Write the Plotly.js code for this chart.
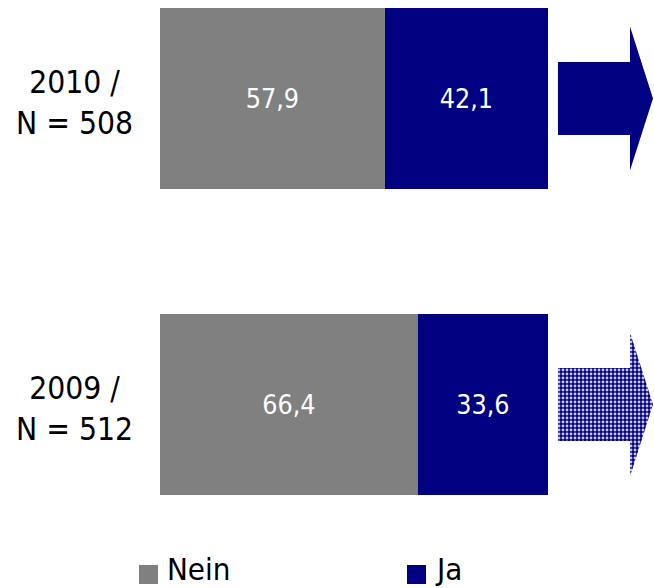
<!DOCTYPE html>
<html>
<head>
<meta charset="utf-8">
<script src="https://cdn.plot.ly/plotly-3.0.1.min.js"></script>
<style>html,body{margin:0;padding:0;background:#fff;}#chart{width:654px;height:588px;}</style>
</head>
<body>
<div id="chart"></div>
<script>
// Data
const years = ['2009', '2010'];
const sampleSizes = [512, 508];
const neinValues = [66.4, 57.9];
const jaValues = [33.6, 42.1];
const seriesNames = ['Nein', 'Ja'];
const seriesColors = ['#808080', '#000080'];

const FONT = '"DejaVu Sans Condensed", "DejaVu Sans", sans-serif';
const W = 654, H = 588;

const seriesValues = [neinValues, jaValues];
const traces = seriesNames.map((name, k) => ({
  type: 'bar', orientation: 'h', name: name, showlegend: false,
  y: years, x: seriesValues[k],
  marker: {color: seriesColors[k], line: {width: 0}},
  texttemplate: '%{x:.1f}', textposition: 'inside', insidetextanchor: 'middle',
  textfont: {family: FONT, size: 26.67, color: '#ffffff'},
  hoverinfo: 'skip'
}));

// Decorative arrows to the right of each bar (geometry relative to category index)
function arrow(idx) {
  const bx0 = 0.01, bx1 = 0.76, tip = 0.9995;
  const bh = 0.1193, hh = 0.2353;
  return {
    x: [bx0, bx1, bx1, tip, bx1, bx1, bx0, bx0],
    y: [idx + bh, idx + bh, idx + hh, idx, idx - hh, idx - bh, idx - bh, idx + bh]
  };
}
years.forEach((yr, i) => {
  const a = arrow(i);
  const t = {
    type: 'scatter', mode: 'lines', x: a.x, y: a.y, xaxis: 'x2', yaxis: 'y2',
    fill: 'toself', line: {width: 0, color: '#000080'},
    fillcolor: '#000080', showlegend: false, hoverinfo: 'skip'
  };
  if (yr === '2009') {
    t.fillpattern = {shape: '.', bgcolor: '#000080', fgcolor: '#c8c8ee', size: 4, solidity: 0.4, fillmode: 'replace'};
  }
  traces.push(t);
});

const yRange = [-0.4428, 1.3219];
const yDomain = [(H - 540) / H, 1];

// Category labels
const annotations = years.map((yr, i) => ({
  xref: 'paper', yref: 'y', x: 74 / W, y: i, yshift: -4,
  xanchor: 'center', yanchor: 'middle', align: 'center',
  text: yr + ' /<br>N = ' + sampleSizes[i],
  showarrow: false,
  font: {family: FONT, size: 31.5, color: '#000000'}
}));

// Legend (swatches + labels)
const legendX = [139, 407];
const shapes = [];
seriesNames.forEach((name, k) => {
  shapes.push({
    type: 'rect', xref: 'paper', yref: 'paper', layer: 'above',
    x0: legendX[k] / W, x1: (legendX[k] + 19) / W,
    y0: (H - 584) / H, y1: (H - 565) / H,
    fillcolor: seriesColors[k], line: {width: 0}
  });
  annotations.push({
    xref: 'paper', yref: 'paper', x: (legendX[k] + 27) / W, y: 0,
    xanchor: 'left', yanchor: 'bottom', borderpad: 0,
    text: name, showarrow: false,
    font: {family: FONT, size: 31, color: '#000000'}
  });
});

const layout = {
  width: W, height: H,
  margin: {l: 0, r: 0, t: 0, b: 0, pad: 0, autoexpand: false},
  paper_bgcolor: '#ffffff', plot_bgcolor: 'rgba(0,0,0,0)',
  barmode: 'stack', bargap: 0.4085,
  separators: ',.',
  showlegend: false,
  font: {family: FONT, color: '#000000'},
  xaxis: {domain: [160 / W, 548 / W], range: [0, 100], visible: false, fixedrange: true},
  yaxis: {domain: yDomain, type: 'category', categoryorder: 'array', categoryarray: years,
          range: yRange, showticklabels: false, showgrid: false, zeroline: false, showline: false, ticks: '', fixedrange: true},
  xaxis2: {domain: [557 / W, 1], range: [0, 1.01], anchor: 'y2', visible: false, fixedrange: true},
  yaxis2: {domain: yDomain, range: yRange, anchor: 'x2', visible: false, fixedrange: true},
  annotations: annotations,
  shapes: shapes
};

Plotly.newPlot('chart', traces, layout, {displayModeBar: false, staticPlot: true});
</script>
</body>
</html>
